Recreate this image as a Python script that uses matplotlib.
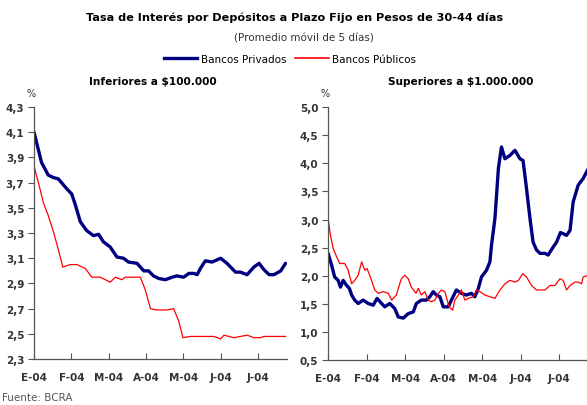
import matplotlib
matplotlib.use("Agg")
import matplotlib.pyplot as plt

# x positions in months since 1-Jan-2004
meses = ["E-04", "F-04", "M-04", "A-04", "M-04", "J-04", "J-04"]

# Inferiores a $100.000
inf_priv_x = [0, 0.2, 0.38, 0.52, 0.65, 0.88, 1.01, 1.1, 1.24, 1.41, 1.59, 1.73, 1.86, 2.04, 2.22,
              2.4, 2.53, 2.76, 2.94, 3.07, 3.2, 3.34, 3.52, 3.7, 3.83, 4.01, 4.15, 4.28, 4.37,
              4.46, 4.59, 4.77, 5.0, 5.17, 5.4, 5.53, 5.71, 5.89, 6.03, 6.16, 6.3, 6.43, 6.61, 6.74]
inf_priv_y = [4.10, 3.86, 3.76, 3.74, 3.73, 3.65, 3.61, 3.53, 3.39, 3.32, 3.28, 3.29, 3.23, 3.19, 3.11,
              3.10, 3.07, 3.06, 3.00, 3.00, 2.96, 2.94, 2.93, 2.95, 2.96, 2.95, 2.98, 2.98, 2.97,
              3.02, 3.08, 3.07, 3.10, 3.06, 2.99, 2.99, 2.97, 3.03, 3.06, 3.01, 2.97, 2.97, 3.00, 3.06]
inf_pub_x = [0, 0.16, 0.25, 0.38, 0.52, 0.65, 0.77, 0.97, 1.15, 1.37, 1.55, 1.77, 1.91, 2.04, 2.18,
             2.35, 2.44, 2.62, 2.85, 2.98, 3.12, 3.29, 3.56, 3.74, 3.88, 3.99, 4.19, 4.46, 4.82,
             5.0, 5.09, 5.35, 5.71, 5.89, 6.07, 6.16, 6.43, 6.74]
inf_pub_y = [3.83, 3.65, 3.54, 3.44, 3.31, 3.17, 3.03, 3.05, 3.05, 3.02, 2.95, 2.95, 2.93, 2.91, 2.95,
             2.93, 2.95, 2.95, 2.95, 2.85, 2.70, 2.69, 2.69, 2.70, 2.60, 2.47, 2.48, 2.48, 2.48,
             2.46, 2.49, 2.47, 2.49, 2.47, 2.47, 2.48, 2.48, 2.48]

# Superiores a $1.000.000
sup_priv_x = [0, 0.09, 0.17, 0.26, 0.32, 0.39, 0.48, 0.55, 0.61, 0.69, 0.78, 0.91, 1.04, 1.17, 1.27,
              1.39, 1.47, 1.6, 1.73, 1.82, 1.95, 2.08, 2.21, 2.29, 2.42, 2.55, 2.64, 2.73, 2.81,
              2.9, 2.99, 3.12, 3.2, 3.33, 3.46, 3.59, 3.72, 3.81, 3.9, 3.98, 4.11, 4.2, 4.24,
              4.33, 4.42, 4.5, 4.59, 4.72, 4.85, 4.98, 5.06, 5.15, 5.24, 5.32, 5.41, 5.5, 5.63,
              5.71, 5.84, 5.93, 6.03, 6.1, 6.19, 6.28, 6.36, 6.49, 6.62, 6.75]
sup_priv_y = [2.40, 2.19, 1.98, 1.92, 1.80, 1.92, 1.83, 1.78, 1.66, 1.57, 1.51, 1.57, 1.51, 1.48, 1.60,
              1.51, 1.45, 1.51, 1.42, 1.27, 1.25, 1.33, 1.36, 1.51, 1.57, 1.57, 1.63, 1.72, 1.66,
              1.63, 1.45, 1.45, 1.57, 1.75, 1.69, 1.66, 1.69, 1.63, 1.78, 1.98, 2.10, 2.25, 2.54,
              3.02, 3.91, 4.29, 4.08, 4.14, 4.23, 4.08, 4.05, 3.55, 3.02, 2.60, 2.46, 2.40, 2.40,
              2.37, 2.51, 2.60, 2.77, 2.75, 2.72, 2.81, 3.31, 3.61, 3.73, 3.90]
sup_pub_x = [0, 0.06, 0.13, 0.22, 0.3, 0.43, 0.52, 0.61, 0.69, 0.78, 0.87, 0.95, 1.01, 1.08, 1.21,
             1.3, 1.43, 1.56, 1.65, 1.77, 1.9, 1.99, 2.08, 2.16, 2.28, 2.34, 2.42, 2.51, 2.6,
             2.68, 2.77, 2.86, 2.94, 3.03, 3.14, 3.23, 3.29, 3.38, 3.46, 3.55, 3.64, 3.77, 3.85,
             3.94, 4.07, 4.2, 4.33, 4.46, 4.59, 4.72, 4.85, 4.94, 5.05, 5.15, 5.28, 5.41, 5.54,
             5.63, 5.76, 5.89, 6.02, 6.1, 6.19, 6.28, 6.41, 6.49, 6.58, 6.62, 6.75]
sup_pub_y = [3.02, 2.72, 2.49, 2.34, 2.22, 2.22, 2.10, 1.86, 1.92, 2.01, 2.25, 2.10, 2.13, 2.01, 1.75,
             1.69, 1.72, 1.69, 1.57, 1.66, 1.95, 2.01, 1.95, 1.80, 1.69, 1.78, 1.66, 1.72, 1.57,
             1.54, 1.57, 1.69, 1.75, 1.72, 1.45, 1.39, 1.57, 1.66, 1.75, 1.57, 1.60, 1.63, 1.75,
             1.72, 1.66, 1.63, 1.60, 1.75, 1.86, 1.92, 1.89, 1.92, 2.04, 1.98, 1.83, 1.75, 1.75,
             1.75, 1.83, 1.83, 1.95, 1.92, 1.75, 1.83, 1.89, 1.89, 1.86, 1.98, 2.01]

NAVY = "#000080"
RED = "#ff0000"
GRAY = "#333333"
plt.rcParams["font.family"] = ["DejaVu Sans"]

fig = plt.figure(figsize=(5.87, 4.06), dpi=100)
fig.patch.set_facecolor("white")


def panel(rect, xs_priv, ys_priv, xs_pub, ys_pub, ylim, yticks, xmax):
    ax = fig.add_axes(rect)
    ax.plot(xs_priv, ys_priv, color=NAVY, lw=2.4, solid_capstyle="round")
    ax.plot(xs_pub, ys_pub, color=RED, lw=0.9)
    ax.set_xlim(0, xmax)
    ax.set_ylim(*ylim)
    ax.set_yticks(yticks)
    ax.set_yticklabels([f"{v:.1f}".replace(".", ",") for v in yticks],
                       fontsize=7.5, fontweight="bold", color=GRAY)
    ax.set_xticks(range(len(meses)))
    ax.set_xticklabels(meses, fontsize=7.5, fontweight="bold", color=GRAY)
    for s in ("top", "right"):
        ax.spines[s].set_visible(False)
    for s in ("left", "bottom"):
        ax.spines[s].set_color("#555555")
        ax.spines[s].set_linewidth(0.9)
    ax.tick_params(axis="x", direction="in", length=4, pad=9, color="#555555")
    ax.tick_params(axis="y", direction="out", length=4, pad=3, color="#555555")
    ax.text(-0.01, 1.035, "%", transform=ax.transAxes, ha="center", va="bottom",
            fontsize=7, color=GRAY)
    return ax


panel([0.058, 0.113, 0.431, 0.621], inf_priv_x, inf_priv_y, inf_pub_x, inf_pub_y,
      (2.3, 4.3), [2.3, 2.5, 2.7, 2.9, 3.1, 3.3, 3.5, 3.7, 3.9, 4.1, 4.3], 6.78)
panel([0.559, 0.110, 0.441, 0.624], sup_priv_x, sup_priv_y, sup_pub_x, sup_pub_y,
      (0.5, 5.0), [0.5, 1.0, 1.5, 2.0, 2.5, 3.0, 3.5, 4.0, 4.5, 5.0], 6.72)

fig.text(0.502, 0.956, "Tasa de Interés por Depósitos a Plazo Fijo en Pesos de 30-44 días",
         ha="center", va="center", fontsize=8.1, fontweight="bold")
fig.text(0.517, 0.906, "(Promedio móvil de 5 días)", ha="center", va="center",
         fontsize=7.5, color=GRAY)
fig.text(0.261, 0.798, r"Inferiores a \$100.000", ha="center", va="center",
         fontsize=7.6, fontweight="bold")
fig.text(0.784, 0.798, r"Superiores a \$1.000.000", ha="center", va="center",
         fontsize=7.6, fontweight="bold")

h1, = fig.axes[0].plot([], [], color=NAVY, lw=2.4)
h2, = fig.axes[0].plot([], [], color=RED, lw=1.2)
fig.legend([h1, h2], ["Bancos Privados", "Bancos Públicos"], loc="center",
           bbox_to_anchor=(0.494, 0.852), ncol=2, frameon=False, fontsize=7.5,
           handlelength=3.2, handletextpad=0.35, columnspacing=0.9, prop=None)

fig.text(0.004, 0.02, "Fuente: BCRA", ha="left", va="center", fontsize=7.5, color="#555555")

fig.savefig("out.png", dpi=100, facecolor="white")
